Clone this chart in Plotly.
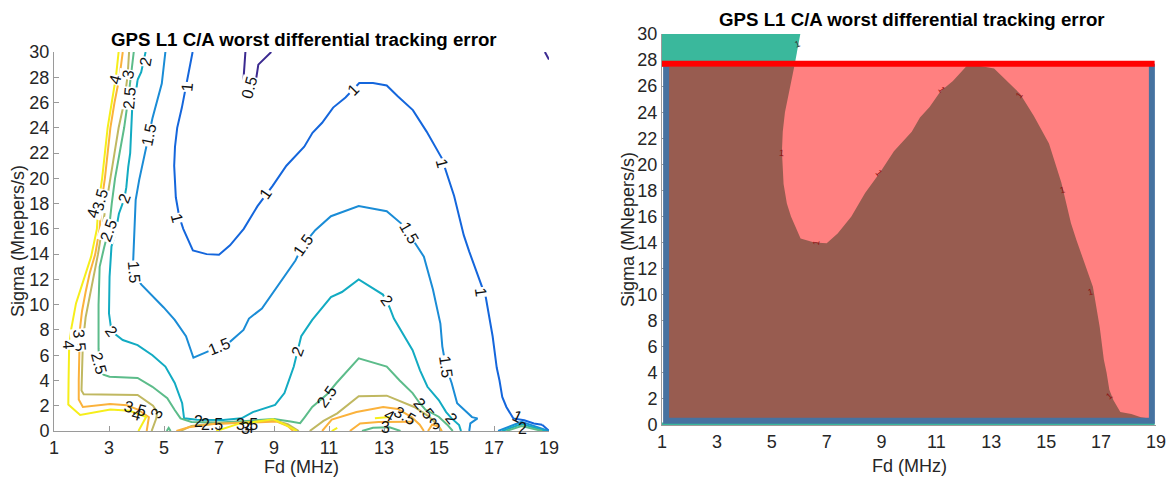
import itertools
import plotly.graph_objects as go

# ---------------- data ----------------
fd_ticks = [1, 3, 5, 7, 9, 11, 13, 15, 17, 19]
sigma_ticks = list(range(0, 31, 2))
fd_range = [1, 19]
sigma_range = [0, 30]

levels = [0.5, 1, 1.5, 2, 2.5, 3, 3.5, 4]

# contour polylines (Fd MHz, Sigma MNepers/s)
c05_top = [(7.96, 30), (7.92, 28.6), (7.88, 27.5), (7.92, 26.9), (8.1, 26.7), (8.28, 27.4),
           (8.36, 28.0), (8.43, 29.0), (8.9, 30)]
c05_corner = [(18.85, 30), (19.0, 29.4)]

c1_main = [(6.04, 30), (5.82, 27.5), (5.65, 25.6), (5.48, 24.0), (5.4, 22.5), (5.37, 21.0),
           (5.43, 18.5), (5.55, 17.0), (5.7, 16.0), (6.05, 14.3), (6.55, 14.0), (7.0, 13.95),
           (7.4, 14.7), (7.9, 16.0), (8.4, 17.8), (8.95, 19.4), (9.45, 21.0), (10.1, 22.5),
           (10.4, 23.6), (10.75, 24.4), (11.15, 25.6), (11.6, 26.4), (12.1, 27.55), (12.6, 27.55),
           (13.1, 27.35), (13.5, 26.5), (14.05, 25.4), (14.55, 23.7), (15.1, 21.6), (15.55, 18.6),
           (15.9, 15.5), (16.1, 14.2), (16.4, 12.4), (16.7, 10.6), (16.95, 7.5), (17.1, 5.0),
           (17.2, 4.0), (17.3, 2.7), (17.45, 1.9), (17.7, 1.0), (18.1, 0.85), (18.45, 0.6),
           (18.75, 0.5)]
c1_tail = [(18.75, 0.5), (19.0, 0.02)]

c15_main = [(5.05, 30), (4.92, 27.5), (4.58, 24.75), (4.44, 23.4), (4.31, 22.0), (4.1, 19.9),
            (3.97, 18.3), (3.93, 15.6), (3.88, 13.5), (3.9, 12.6), (4.17, 11.6), (4.98, 9.8),
            (5.39, 8.8), (5.8, 7.5), (6.07, 5.8), (6.5, 6.2), (7.0, 6.7), (7.42, 7.1), (7.89, 8.0),
            (8.09, 8.9), (8.56, 9.7), (9.04, 11.2), (9.44, 12.5), (9.78, 13.5), (10.05, 14.7),
            (10.5, 15.9), (11.07, 17.0), (12.08, 17.8), (13.1, 17.4), (13.64, 16.4), (14.0, 15.3),
            (14.45, 13.8), (14.78, 11.2), (15.05, 8.5), (15.12, 6.7), (15.25, 5.1), (15.46, 3.8),
            (15.66, 2.2), (16.2, 1.1), (16.4, 1.0), (16.14, 0.6), (16.1, 0)]
c15_tri = [(17.15, 0), (18.0, 0.72), (19.0, 0.0)]

c2_main = [(4.33, 30), (4.17, 28.4), (4.04, 27.8), (3.97, 26.7), (3.84, 25.4), (3.77, 22.0),
           (3.7, 20.9), (3.63, 19.3), (3.56, 18.4), (3.36, 17.2), (3.23, 15.6), (3.09, 14.6),
           (3.02, 12.2), (3.0, 9.3), (3.09, 7.9), (3.5, 7.2), (4.04, 6.8), (4.58, 6.0), (5.05, 5.1),
           (5.39, 3.8), (5.66, 2.2), (5.73, 1.0), (6.2, 0.9), (7.15, 0.87), (7.82, 1.0), (8.23, 1.5),
           (9.04, 2.06), (9.38, 3.0), (9.72, 5.1), (9.85, 6.3), (9.99, 7.5), (10.39, 8.8),
           (11.07, 10.6), (11.47, 11.0), (12.08, 12.0), (12.96, 10.8), (13.2, 9.8), (13.36, 8.9),
           (13.7, 7.7), (14.04, 6.4), (14.31, 4.8), (14.58, 3.5), (14.99, 2.45), (15.26, 1.5),
           (15.46, 1.0), (15.73, 0.47), (15.8, 0)]
c2_tri = [(17.3, 0), (18.0, 0.55), (18.9, 0)]

c25_main = [(3.9, 30), (3.8, 28), (3.7, 26.3), (3.55, 24), (3.38, 22), (3.22, 20), (3.1, 18),
            (3.0, 16), (2.82, 14.5), (2.66, 13), (2.62, 10), (2.62, 6.5), (2.66, 5.0), (2.8, 4.45),
            (3.02, 4.3), (4.04, 4.2), (4.58, 3.5), (5.12, 2.6), (5.39, 1.66), (5.6, 1.0), (6.0, 0.72),
            (7.0, 0.68), (8.0, 0.8), (9.0, 0.95), (9.6, 0.75), (9.95, 0.62), (10.12, 1.1),
            (10.39, 1.9), (10.93, 2.9), (11.27, 3.8), (12.08, 5.75), (13.1, 5.1), (13.57, 4.0),
            (14.04, 3.0), (14.3, 2.2), (14.5, 1.7), (14.99, 1.13), (15.3, 0.5), (15.5, 0)]
c25_tri = [(17.45, 0), (18.0, 0.4), (18.75, 0)]
c25_tick = [(5.1, 0), (5.17, 0.25), (5.24, 0)]
c25_small = [(12.2, 0), (12.6, 0.25), (13.2, 0.3), (13.6, 0)]

c3_left = [(3.73, 30), (3.68, 28.2), (3.55, 26), (3.35, 24), (3.2, 22), (3.05, 20), (2.92, 18.5),
           (2.8, 17), (2.75, 16), (2.6, 14), (2.42, 12), (2.28, 10.5), (2.15, 9), (2.05, 7),
           (2.02, 5), (2.0, 3.2), (2.08, 2.9), (3.0, 2.9), (4.04, 2.85), (4.6, 2.0), (4.75, 1.5),
           (4.72, 1.0), (4.55, 0)]
c3_mid = [(5.6, 0), (6.0, 0.4), (6.8, 0.6), (8.0, 0.68), (9.0, 0.85), (9.5, 0.55), (9.9, 0)]
c3_right = [(10.3, 0), (10.8, 0.8), (11.3, 1.4), (12.08, 2.75), (13.1, 2.8), (14.1, 1.9),
            (14.6, 1.2), (14.9, 0.6), (15.1, 0)]

c35_left = [(3.5, 30), (3.38, 28), (3.2, 26), (3.05, 24), (2.95, 22), (2.85, 20), (2.72, 18),
            (2.66, 16), (2.5, 14), (2.3, 12.5), (2.15, 11), (2.02, 9.5), (1.94, 8), (1.92, 6.5),
            (1.9, 4), (1.9, 2.5), (2.05, 1.9), (3.04, 2.14), (3.65, 2.04), (4.05, 1.7), (4.45, 1.1),
            (4.37, 0)]
c35_mid = [(5.45, 0), (5.9, 0.3), (6.8, 0.55), (7.6, 0.6), (8.6, 0.7), (9.1, 0.75), (9.5, 0.4),
           (9.7, 0)]
c35_right = [(10.75, 0), (11.1, 0.9), (12.0, 1.5), (12.97, 1.9), (13.5, 1.75), (14.0, 1.1),
             (14.3, 0.5), (14.45, 0)]
c35_right2 = [(11.76, 0), (12.13, 0.6), (12.8, 0.72), (13.6, 0.75), (14.07, 0.73)]
c35_small = [(14.6, 0), (14.75, 0.5), (15.0, 0.35), (15.1, 0)]

c4_left = [(3.35, 30), (3.25, 28), (3.1, 26), (2.95, 24), (2.85, 22), (2.75, 20), (2.62, 18),
           (2.56, 16), (2.35, 13.8), (2.1, 12.2), (1.95, 11.2), (1.8, 10.1), (1.62, 8.0),
           (1.55, 6.6), (1.53, 4.0), (1.52, 2.1), (1.95, 1.27), (3.05, 1.7), (3.75, 1.6),
           (4.35, 1.1), (4.07, 0)]
c4_mid = [(6.9, 0), (7.4, 0.35), (7.76, 0.6), (8.4, 0.75), (8.97, 0.93), (9.4, 0.5), (9.83, 0)]
c4_right = [(12.67, 1.0), (13.2, 1.1)]
c4_small = [(11.1, 0), (11.3, 0.25)]

segments_by_level = {
    0.5: [c05_top, c05_corner],
    1: [c1_main, c1_tail],
    1.5: [c15_main, c15_tri],
    2: [c2_main, c2_tri],
    2.5: [c25_main, c25_tri, c25_tick, c25_small],
    3: [c3_left, c3_mid, c3_right],
    3.5: [c35_left, c35_mid, c35_right, c35_right2, c35_small],
    4: [c4_left, c4_mid, c4_right, c4_small],
}

# contour labels on the left panel: (text, Fd, Sigma, angle)
left_labels = [
    ("0.5", 8.1, 27.2, -75),
    ("1", 5.84, 27.2, -85), ("1", 5.47, 16.8, 75), ("1", 8.7, 18.8, -55),
    ("1", 11.9, 27.0, -45), ("1", 15.12, 21.2, 75), ("1", 16.54, 11.0, 82), ("1", 17.86, 1.15, 25),
    ("1.5", 4.44, 23.4, -78), ("1.5", 3.9, 12.6, 85), ("1.5", 7.0, 6.7, -22),
    ("1.5", 10.05, 14.7, -55), ("1.5", 13.9, 15.7, 60), ("1.5", 15.25, 5.1, 82),
    ("2", 4.31, 29.2, -80), ("2", 3.56, 18.4, -70), ("2", 3.09, 7.9, 55), ("2", 9.85, 6.3, -70),
    ("2", 13.1, 10.3, 55), ("2", 15.46, 1.0, 50), ("2", 6.25, 0.75, 0), ("2", 18.05, 0.2, 0),
    ("2.5", 3.75, 26.3, -85), ("2.5", 2.62, 5.4, 75), ("2.5", 2.98, 15.9, -70),
    ("2.5", 10.93, 2.7, -55), ("2.5", 14.45, 1.8, 50), ("2.5", 6.75, 0.5, 0),
    ("3", 3.7, 28.2, -80), ("3", 4.73, 1.4, -60), ("3", 13.05, 0.3, 0), ("3", 14.85, 0.6, -30),
    ("3", 7.95, 0.2, 0),
    ("3.5", 1.94, 7.2, 85), ("3.5", 2.69, 18.3, -75), ("3.5", 3.95, 1.75, 15),
    ("3.5", 13.75, 1.25, 30), ("3.5", 8.0, 0.55, 0),
    ("4", 3.23, 27.8, -75), ("4", 1.54, 6.8, 85), ("4", 2.42, 17.2, -75), ("4", 4.0, 1.3, 15),
    ("4", 13.2, 1.25, 30), ("4", 8.1, 0.25, 0),
]

# right panel: region frame and threshold
frame_fd = [1.15, 18.85]
frame_sigma = [0.32, 27.72]
threshold_sigma = 27.72
floor_sigma = 0.0
# small "1" contour labels on the right panel: (Fd, Sigma, angle)
right_labels = [(5.94, 29.2, -20), (5.37, 20.9, 5), (6.6, 14.0, -80), (8.9, 19.3, 50),
                (11.2, 25.7, 55), (14.03, 25.3, -55), (15.58, 18.0, -15), (16.6, 10.2, -15),
                (17.3, 2.2, -40)]

# ---------------- styling ----------------
parula = {0.5: "#3b2a90", 1: "#1466dc", 1.5: "#1a8cd6", 2: "#12abc2", 2.5: "#5cbc8a",
          3: "#c0b861", 3.5: "#fbb23c", 4: "#f6ee1a"}
FONT = "Liberation Sans, Arial, Helvetica, sans-serif"
TXT = "#262626"
AX = "#9a9a9a"

W, H = 1169, 484


def px(x):
    return x / W


def py(y):
    return (H - y) / H


fig = go.Figure()


def polyline(segs):
    xs, ys = [], []
    for s in segs:
        xs += [p[0] for p in s] + [None]
        ys += [p[1] for p in s] + [None]
    return xs, ys


for lv in levels:
    xs, ys = polyline(segments_by_level[lv])
    fig.add_trace(go.Scatter(x=xs, y=ys, mode="lines", line=dict(color=parula[lv], width=2),
                             hoverinfo="skip", showlegend=False, xaxis="x", yaxis="y"))

annotations = []
for text, x, y, ang in left_labels:
    annotations.append(dict(x=x, y=y, xref="x", yref="y", text=text, showarrow=False,
                            textangle=ang, font=dict(family=FONT, size=16, color="#111"),
                            bgcolor="white" if y > 3 else "rgba(0,0,0,0)", borderpad=0))

# ---- right panel ----
x0, x1 = frame_fd
s0, s1 = frame_sigma
fig.add_trace(go.Scatter(x=[x0, x1, x1, x0, x0], y=[s0, s0, s1, s1, s0], mode="lines",
                         fill="toself", fillcolor="#ff8080", line=dict(width=0),
                         hoverinfo="skip", showlegend=False, xaxis="x2", yaxis="y2"))

inner = [p for p in c1_main if p[1] <= threshold_sigma]
bx = [x0, x0] + [p[0] for p in inner] + [x1, x0]
by = [s0, s1] + [p[1] for p in inner] + [s0, s0]
fig.add_trace(go.Scatter(x=bx, y=by, mode="lines", fill="toself", fillcolor="#985c50",
                         line=dict(width=0), hoverinfo="skip", showlegend=False,
                         xaxis="x2", yaxis="y2"))

top_run = list(itertools.takewhile(lambda p: p[1] >= 27.5, c1_main))
tx = [fd_range[0]] + [p[0] for p in top_run] + [fd_range[0], fd_range[0]]
ty = [sigma_range[1]] + [p[1] for p in top_run] + [top_run[-1][1], sigma_range[1]]
fig.add_trace(go.Scatter(x=tx, y=ty, mode="lines", fill="toself", fillcolor="#3ab89c",
                         line=dict(width=0), hoverinfo="skip", showlegend=False,
                         xaxis="x2", yaxis="y2"))

fig.add_trace(go.Scatter(x=[fd_range[0], 18.95], y=[floor_sigma, floor_sigma], mode="lines",
                         line=dict(color="#3ab89c", width=5), hoverinfo="skip",
                         showlegend=False, xaxis="x2", yaxis="y2"))

fig.add_trace(go.Scatter(x=[x0, x0, x1, x1], y=[s1, s0, s0, s1], mode="lines",
                         line=dict(color="#4672a0", width=6), hoverinfo="skip",
                         showlegend=False, xaxis="x2", yaxis="y2"))

fig.add_trace(go.Scatter(x=[fd_range[0], 18.95], y=[threshold_sigma, threshold_sigma],
                         mode="lines", line=dict(color="#ff0000", width=6), hoverinfo="skip",
                         showlegend=False, xaxis="x2", yaxis="y2"))

for x, y, ang in right_labels:
    annotations.append(dict(x=x, y=y, xref="x2", yref="y2", text="1", showarrow=False,
                            textangle=ang,
                            font=dict(family=FONT, size=9, color="#333" if y > 28 else "#8e1414")))

# titles and axis titles
title_font = dict(family=FONT, size=18.7, color="#000")
lab_font = dict(family=FONT, size=18, color=TXT)
common = dict(xref="paper", yref="paper", showarrow=False, xanchor="center", yanchor="middle")
annotations += [
    dict(x=px(304), y=py(39),
         text="<b>GPS L1 C/A worst differential tracking error</b>", font=title_font, **common),
    dict(x=px(912), y=py(19),
         text="<b>GPS L1 C/A worst differential tracking error</b>", font=title_font, **common),
    dict(x=px(301.5), y=py(467), text="Fd (MHz)", font=lab_font, **common),
    dict(x=px(909), y=py(466), text="Fd (MHz)", font=lab_font, **common),
    dict(x=px(18), y=py(241), text="Sigma (Mnepers/s)", textangle=-90, font=lab_font, **common),
    dict(x=px(628), y=py(230), text="Sigma (MNepers/s)", textangle=-90, font=lab_font, **common),
]

axis_common = dict(showgrid=False, zeroline=False, ticks="inside", ticklen=5, tickcolor=AX,
                   showline=True, linecolor=AX, linewidth=1, mirror=False, automargin=False,
                   tickfont=dict(family=FONT, size=18, color=TXT), fixedrange=True)

fig.update_layout(
    width=W, height=H, margin=dict(l=0, r=0, t=0, b=0, autoexpand=False),
    paper_bgcolor="white", plot_bgcolor="white", showlegend=False,
    xaxis=dict(domain=[px(54), px(549)], range=fd_range, tickvals=fd_ticks,
               anchor="y", **axis_common),
    yaxis=dict(domain=[py(431), py(52)], range=sigma_range, tickvals=sigma_ticks,
               anchor="x", **axis_common),
    xaxis2=dict(domain=[px(662), px(1156)], range=fd_range, tickvals=fd_ticks,
                anchor="y2", layer="below traces", **axis_common),
    yaxis2=dict(domain=[py(425), py(34)], range=sigma_range, tickvals=sigma_ticks,
                anchor="x2", layer="below traces", **axis_common),
    annotations=annotations,
)

# place the figure flush with the window (no default page margin, no scrollbars, no modebar)
fig.write_html("out.html", config={"displayModeBar": False},
               post_script="document.body.style.margin='0';document.body.style.overflow='hidden';")
